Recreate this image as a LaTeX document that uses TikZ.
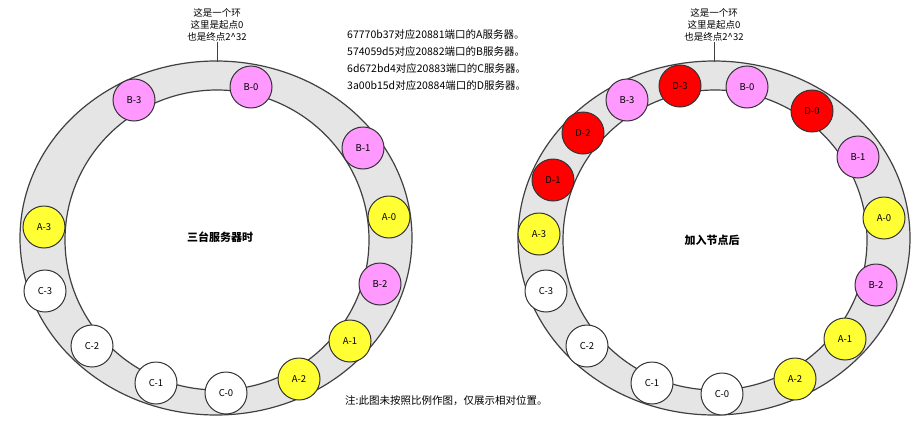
\documentclass[tikz,border=0pt]{standalone}
\usepackage{fontspec}
\setmainfont{Noto Sans CJK SC}
\definecolor{pink}{HTML}{FF99FF}
\definecolor{yel}{HTML}{FFFF33}
\begin{document}
\begin{tikzpicture}[x=1pt,y=-1pt,
  ringo/.style={draw=black!75,line width=1.2pt,fill=black!10},
  ringi/.style={draw=black!75,line width=1.2pt,fill=white},
  nd/.style={circle,draw=black!80,line width=1pt,minimum size=42pt,inner sep=0pt,font=\fontsize{9.5}{10}\selectfont},
  pk/.style={nd,fill=pink},
  yl/.style={nd,fill=yel},
  wt/.style={nd,fill=white},
  rd/.style={nd,fill=red},
  lab/.style={font=\fontsize{9.5}{12}\selectfont,align=center,inner sep=0pt},
  txt/.style={font=\fontsize{10.5}{17}\selectfont,align=left,anchor=north west,inner sep=0pt}]
\useasboundingbox (0,0) rectangle (920,431);
% left ring
\draw[ringo] (216,238) ellipse [x radius=196,y radius=177];
\draw[ringi] (217,240) ellipse [x radius=152,y radius=150];
\coordinate (ltop) at (217,62);
\node[lab] (lt) at (217,25) {这是一个环\\这里是起点0\\也是终点2\^{}32};
\draw[black!75] (lt.south) -- (ltop);
\node[font=\fontsize{11}{12}\selectfont\bfseries] (lc) at (220,237) {三台服务器时};
\node[pk] (lb3) at (134,100) {B-3};
\node[pk] (lb0) at (251,87) {B-0};
\node[pk] (lb1) at (363,148) {B-1};
\node[yl] (la0) at (389,217) {A-0};
\node[pk] (lb2) at (380,284) {B-2};
\node[yl] (la1) at (350,341) {A-1};
\node[yl] (la2) at (299,379) {A-2};
\node[wt] (lc0) at (226,393) {C-0};
\node[wt] (lc1) at (156,383) {C-1};
\node[wt] (lc2) at (92,346) {C-2};
\node[wt] (lc3) at (45,291) {C-3};
\node[yl] (la3) at (44,227) {A-3};
% right ring
\draw[ringo] (714,238) ellipse [x radius=196,y radius=177];
\draw[ringi] (715,240) ellipse [x radius=152,y radius=150];
\coordinate (rtop) at (714,62);
\node[lab] (rt) at (714,25) {这是一个环\\这里是起点0\\也是终点2\^{}32};
\draw[black!75] (rt.south) -- (rtop);
\node[font=\fontsize{11}{12}\selectfont\bfseries] (rc) at (712,240) {加入节点后};
\node[pk] (rb3) at (627,100) {B-3};
\node[rd] (rd3) at (680,86) {D-3};
\node[pk] (rb0) at (747,87) {B-0};
\node[rd] (rd0) at (812,111) {D-0};
\node[pk] (rb1) at (858,157) {B-1};
\node[yl] (ra0) at (884,218) {A-0};
\node[pk] (rb2) at (876,285) {B-2};
\node[yl] (ra1) at (845,339) {A-1};
\node[yl] (ra2) at (795,379) {A-2};
\node[wt] (rc0) at (722,394) {C-0};
\node[wt] (rc1) at (652,383) {C-1};
\node[wt] (rc2) at (587,346) {C-2};
\node[wt] (rc3) at (546,291) {C-3};
\node[yl] (ra3) at (539,234) {A-3};
\node[rd] (rd1) at (553,180) {D-1};
\node[rd] (rd2) at (583,133) {D-2};
% texts
\node[txt] (info) at (347,29) {67770b37对应20881端口的A服务器。\\574059d5对应20882端口的B服务器。\\6d672bd4对应20883端口的C服务器。\\3a00b15d对应20884端口的D服务器。};
\node[txt,anchor=west,font=\fontsize{10.5}{12}\selectfont] (note) at (345,401) {注:此图未按照比例作图，仅展示相对位置。};
\end{tikzpicture}
\end{document}
